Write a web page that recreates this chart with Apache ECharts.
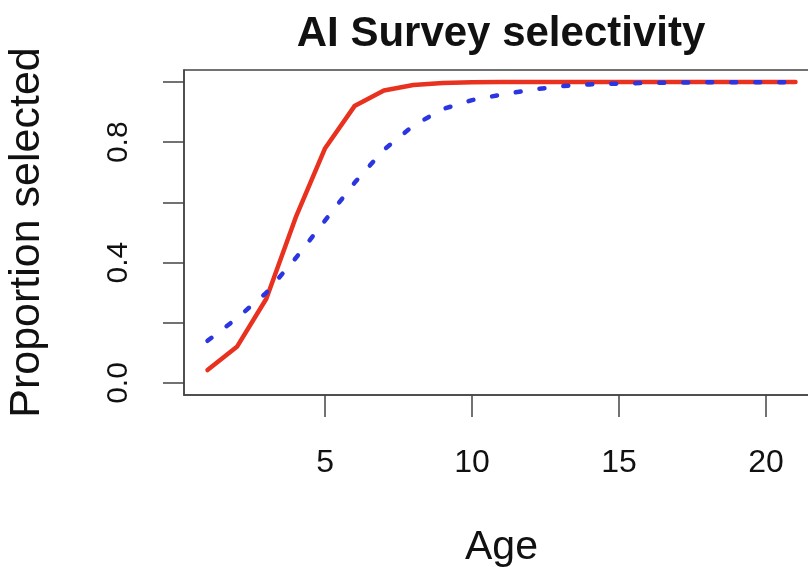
<!DOCTYPE html>
<html>
<head>
<meta charset="utf-8">
<script src="https://cdn.jsdelivr.net/npm/echarts@6/dist/echarts.min.js"></script>
<style>
  html, body { margin: 0; padding: 0; background: #fff; }
  #chart { width: 808px; height: 567px; }
</style>
</head>
<body>
<div id="chart"></div>
<script>
// Data
const ages = [1,2,3,4,5,6,7,8,9,10,11,12,13,14,15,16,17,18,19,20,21];
const selRed = [0.043,0.12,0.28,0.55,0.78,0.92,0.972,0.99,0.997,0.999,1,1,1,1,1,1,1,1,1,1,1];
const selBlue = [0.14,0.215,0.30,0.415,0.54,0.665,0.775,0.855,0.91,0.94,0.958,0.974,0.986,0.992,0.995,0.997,0.998,0.999,0.999,0.999,1.0];
const xTicks = [5,10,15,20];
const yTicks = [0,0.2,0.4,0.6,0.8,1.0];
const yLabels = [0,0.4,0.8];
const titleText = 'AI Survey selectivity';
const xName = 'Age';
const yName = 'Proportion selected';

const FONT = '"Liberation Sans", Arial, Helvetica, sans-serif';
const INK = '#111';
const BOX = '#444';

const chart = echarts.init(document.getElementById('chart'), null, {renderer: 'canvas'});
chart.setOption({
  animation: false,
  backgroundColor: '#fff',
  title: {
    text: titleText,
    left: 501,
    top: 13,
    padding: 0,
    textAlign: 'center',
    textStyle: { fontFamily: FONT, fontWeight: 'bold', fontSize: 42, color: INK }
  },
  grid: {
    left: 184, top: 70, width: 635, height: 325,
    outerBoundsMode: 'none', containLabel: false,
    show: true, borderColor: BOX, borderWidth: 1.5, backgroundColor: 'transparent'
  },
  xAxis: {
    type: 'value', min: 0.2, max: 21.8,
    name: xName, nameLocation: 'middle', nameGap: 132,
    nameTextStyle: { fontFamily: FONT, fontSize: 41, color: INK },
    splitLine: { show: false },
    axisLine: { show: true, onZero: false, lineStyle: { color: BOX, width: 1.5 } },
    axisTick: { show: true, inside: false, length: 22, customValues: xTicks, lineStyle: { color: BOX, width: 1.5 } },
    axisLabel: { customValues: xTicks, margin: 52, fontFamily: FONT, fontSize: 32, color: INK }
  },
  yAxis: {
    type: 'value', min: -0.04, max: 1.04,
    name: yName, nameLocation: 'middle', nameGap: 135, nameRotate: 90,
    nameTextStyle: { fontFamily: FONT, fontSize: 43, color: INK },
    splitLine: { show: false },
    axisLine: { show: true, onZero: false, lineStyle: { color: BOX, width: 1.5 } },
    axisTick: { show: true, inside: false, length: 21, customValues: yTicks, lineStyle: { color: BOX, width: 1.5 } },
    axisLabel: {
      customValues: yLabels, rotate: 90, margin: 50,
      fontFamily: FONT, fontSize: 30, color: INK,
      formatter: v => Number(v).toFixed(1)
    }
  },
  series: [
    {
      type: 'line', name: 'red',
      data: ages.map((a, i) => [a, selRed[i]]),
      showSymbol: false, symbol: 'none',
      lineStyle: { color: '#e8321f', width: 4.5, type: 'solid', cap: 'round', join: 'round' },
      z: 3
    },
    {
      type: 'line', name: 'blue',
      data: ages.map((a, i) => [a, selBlue[i]]),
      showSymbol: false, symbol: 'none',
      lineStyle: { color: '#2b35e0', width: 4.5, type: [5, 19], cap: 'round', join: 'round' },
      z: 4
    }
  ]
});
</script>
</body>
</html>
